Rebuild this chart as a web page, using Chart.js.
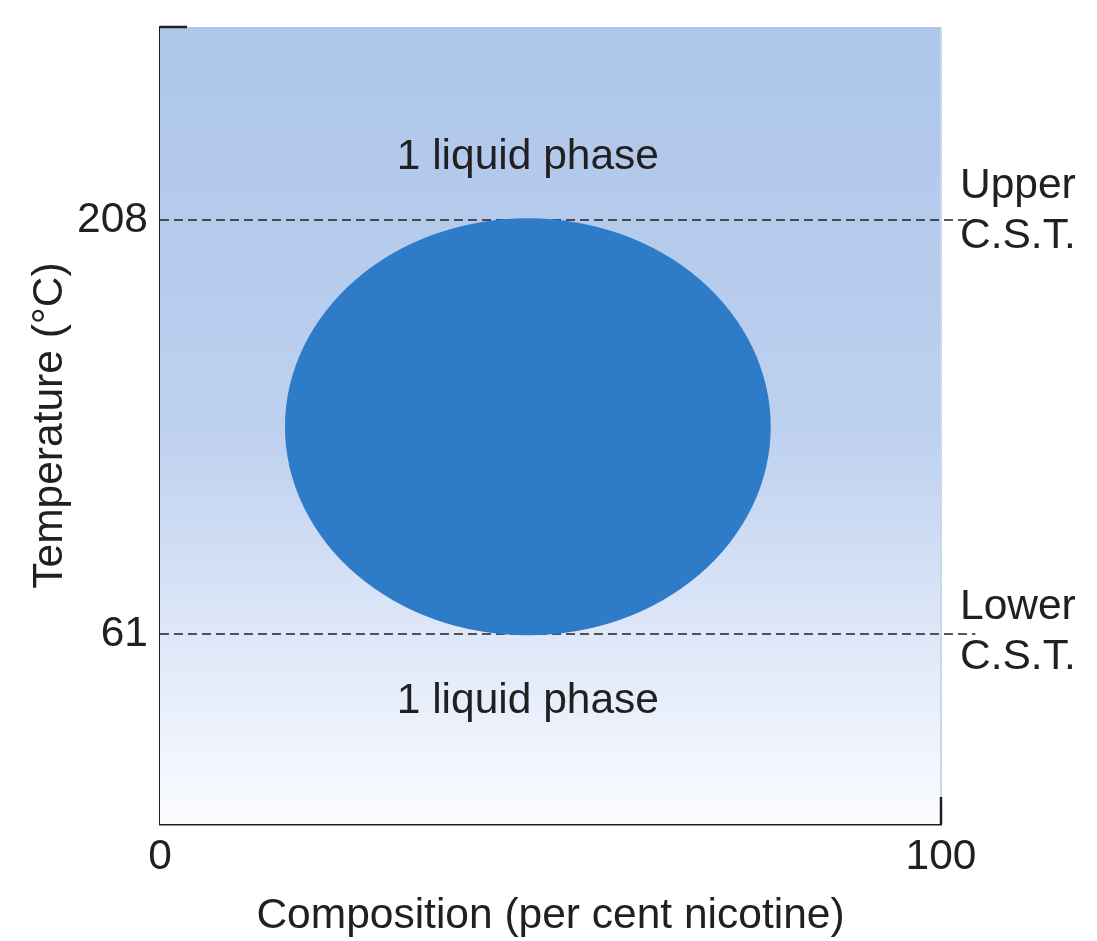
<!DOCTYPE html>
<html>
<head>
<meta charset="utf-8">
<script src="https://cdn.jsdelivr.net/npm/chart.js@4"></script>
<style>
  html, body { margin:0; padding:0; background:#fff; }
  #wrap { width:1097px; height:941px; position:relative; }
</style>
</head>
<body>
<div id="wrap"><canvas id="phaseChart"></canvas></div>
<script>
// axis ranges
const xRange = [0, 100];
const tRange = [-6.5, 276.5];
const xTicks = [0, 100];
const tTicks = [61, 208];

// critical solution temperatures
const cstTemps  = [208, 61];
const cstLabels = [["Upper", "C.S.T."], ["Lower", "C.S.T."]];
const cstLineEnd = 104.4;   // dashed line runs a little past the frame

// two-phase region (ellipse bounds, composition % / °C)
const regionX = [16.0, 78.2];
const regionT = [60.5, 208.6];

// "1 liquid phase" labels
const phaseText = "1 liquid phase";
const phaseX = [47.1, 47.1];
const phaseT = [230.4, 37.2];

const INK  = "#231f20";
const FONT = "'Liberation Sans', Arial, Helvetica, sans-serif";
const SIZE = 42.5;
Chart.defaults.font.family = FONT;
Chart.defaults.color = INK;

const phasePlugin = {
  id: "phase",
  beforeDatasetsDraw(chart) {
    const { ctx, chartArea: a } = chart;
    const g = ctx.createLinearGradient(0, a.top, 0, a.bottom);
    g.addColorStop(0, "#adc6ea");
    g.addColorStop(0.5, "#bdd0ef");
    g.addColorStop(1, "#fbfcff");
    ctx.save();
    ctx.fillStyle = g;
    ctx.fillRect(a.left, a.top, a.right - a.left, a.bottom - a.top);
    // faint right edge
    ctx.strokeStyle = "#c9d8f0";
    ctx.lineWidth = 2;
    ctx.beginPath();
    ctx.moveTo(a.right, a.top);
    ctx.lineTo(a.right, a.bottom);
    ctx.stroke();
    ctx.restore();
  },
  afterDatasetsDraw(chart) {
    const { ctx, chartArea: a, scales: { x, y } } = chart;
    ctx.save();
    // two-phase ellipse
    const x0 = x.getPixelForValue(regionX[0]), x1 = x.getPixelForValue(regionX[1]);
    const y0 = y.getPixelForValue(regionT[1]), y1 = y.getPixelForValue(regionT[0]);
    ctx.fillStyle = "#2e7bc8";
    ctx.beginPath();
    ctx.ellipse((x0 + x1) / 2, (y0 + y1) / 2, (x1 - x0) / 2, (y1 - y0) / 2, 0, 0, Math.PI * 2);
    ctx.fill();

    ctx.fillStyle = INK;
    ctx.font = SIZE + "px " + FONT;
    ctx.textAlign = "center";
    ctx.textBaseline = "middle";
    phaseX.forEach((v, i) => {
      ctx.fillText(phaseText, x.getPixelForValue(v), y.getPixelForValue(phaseT[i]));
    });

    // C.S.T. labels on the right
    ctx.textAlign = "left";
    const shift = [-9, -2];
    cstTemps.forEach((t, i) => {
      const py = y.getPixelForValue(t) + shift[i];
      ctx.fillText(cstLabels[i][0], a.right + 19, py - 25);
      ctx.fillText(cstLabels[i][1], a.right + 19, py + 25);
    });

    // small frame ticks (top-left, bottom-right)
    ctx.strokeStyle = INK;
    ctx.lineWidth = 2.5;
    ctx.beginPath();
    ctx.moveTo(a.left, a.top);
    ctx.lineTo(a.left + 27, a.top);
    ctx.moveTo(a.right, a.bottom);
    ctx.lineTo(a.right, a.bottom - 27);
    ctx.stroke();
    ctx.restore();
  }
};

const cstSets = cstTemps.map(t => ({
  data: [{ x: xRange[0], y: t }, { x: cstLineEnd, y: t }],
  borderColor: INK,
  borderWidth: 1.5,
  borderDash: [9, 5],
  pointRadius: 0,
  showLine: true,
  clip: false,
}));

new Chart(document.getElementById("phaseChart").getContext("2d"), {
  type: "scatter",
  data: { datasets: cstSets },
  options: {
    responsive: true,
    maintainAspectRatio: false,
    animation: false,
    layout: { padding: { top: 27, right: 156, left: 0, bottom: 0 } },
    plugins: { legend: { display: false }, tooltip: { enabled: false } },
    scales: {
      x: {
        type: "linear",
        min: xRange[0], max: xRange[1],
        afterBuildTicks: s => { s.ticks = xTicks.map(v => ({ value: v })); },
        afterFit: s => { s.height = 117; s.paddingLeft = 0; s.paddingRight = 0; },
        grid: { display: false, drawTicks: false },
        border: { display: true, color: INK, width: 2.5 },
        ticks: { color: INK, font: { size: SIZE }, padding: 8, maxRotation: 0 },
        title: { display: true, text: "Composition (per cent nicotine)", color: INK,
                 font: { size: SIZE, lineHeight: 1 }, padding: { top: 0, bottom: 3 } },
      },
      y: {
        type: "linear",
        min: tRange[0], max: tRange[1],
        afterBuildTicks: s => { s.ticks = tTicks.map(v => ({ value: v })); },
        afterFit: s => { s.width = 160; s.paddingTop = 0; s.paddingBottom = 0; },
        grid: { display: false, drawTicks: false },
        border: { display: true, color: INK, width: 2.5 },
        ticks: { color: INK, font: { size: SIZE }, padding: 12 },
        title: { display: true, text: "Temperature (°C)", color: INK,
                 font: { size: SIZE, lineHeight: 1 }, padding: { top: 29, bottom: 0 } },
      },
    },
  },
  plugins: [phasePlugin],
});
</script>
</body>
</html>
